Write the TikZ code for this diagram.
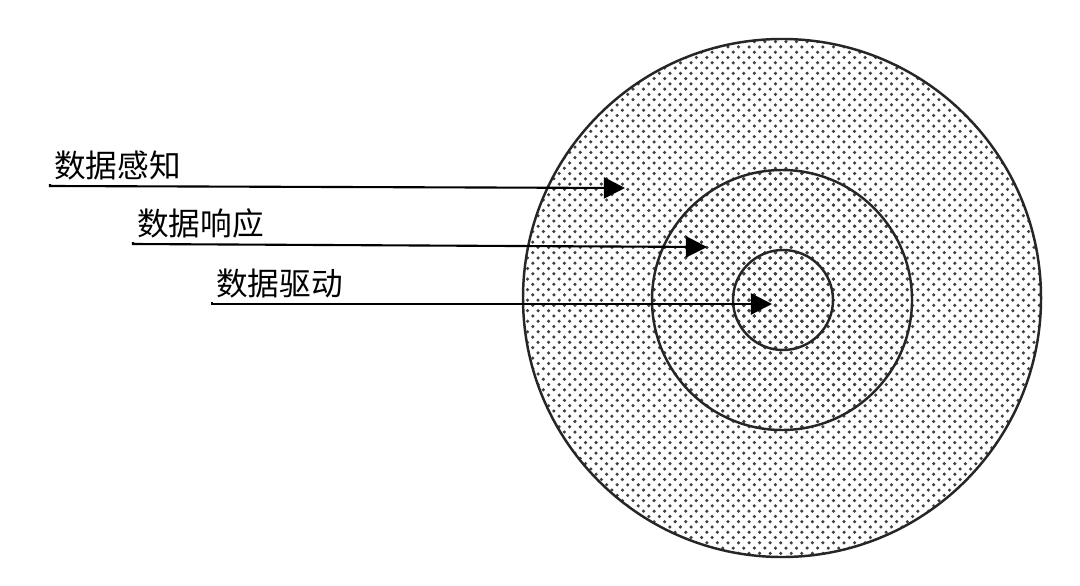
\documentclass[tikz,border=0pt]{standalone}
\usepackage{fontspec}
\newfontfamily\cjk{Noto Sans CJK SC}
\usetikzlibrary{arrows.meta,patterns}

\begin{document}
\begin{tikzpicture}[x=0.01cm, y=-0.01cm,
			ring/.style={draw=black!85, line width=0.7pt, pattern=crosshatch dots, pattern color=black!75},
			label/.style={anchor=south west, inner sep=1pt, font=\cjk\fontsize{9}{10}\selectfont},
			line/.style={draw, line width=0.6pt, -{Triangle[length=6pt,width=6pt]}}
		]
		\useasboundingbox (0,0) rectangle (1080,585);
		% Circles
		\fill[white] (0,0) rectangle (1080,585);
		\draw [ring] (782,298) circle (259);
		\draw [ring] (782,300) circle (130);
		\draw [ring] (783,300) circle (50);
		% Labels
		\node [label] (perceive) at (50,184) {数据感知};
		\node [label] (respond) at (133,242) {数据响应};
		\node [label] (drive) at (212,302) {数据驱动};
		\coordinate (perceivetip) at (625,188);
		\coordinate (respondtip) at (707,247);
		\coordinate (drivetip) at (772,304);
		% Draw edges
		\path [line] (perceive.south west) -- ++(0,2) -- (perceivetip);
		\path [line] (respond.south west) -- ++(0,2) -- (respondtip);
		\path [line] (drive.south west) -- ++(0,2) -- (drivetip);
	\end{tikzpicture}
\end{document}
